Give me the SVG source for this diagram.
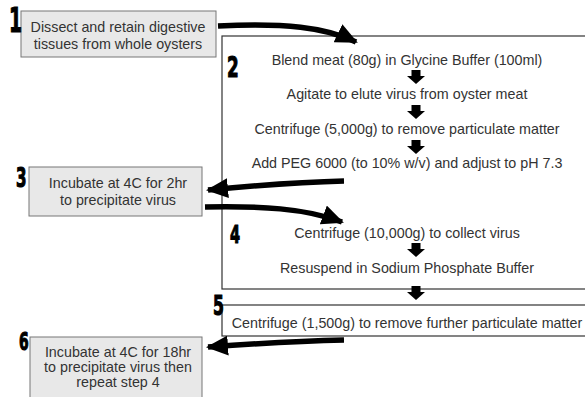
<svg xmlns="http://www.w3.org/2000/svg" xmlns:xlink="http://www.w3.org/1999/xlink" width="585" height="397" viewBox="0 0 585 397">
<style>
.t{font-family:"Liberation Sans",Arial,sans-serif;font-size:14.3px;fill:#333;text-anchor:middle}
.num{font-family:"DejaVu Sans",sans-serif;font-weight:bold;fill:#000;stroke:#000;stroke-width:1.2}
.gbox{fill:#e8e8e8;stroke:#777;stroke-width:1}
.wbox{fill:#fff;stroke:#333;stroke-width:1.2}
.conn{fill:none;stroke:#000;stroke-width:5.5;marker-end:url(#ah)}
</style>
<defs>
<marker id="ah" viewBox="0 0 22 20" refX="20" refY="10" markerWidth="22" markerHeight="20" markerUnits="userSpaceOnUse" orient="auto">
<path d="M0,0 L22,10 L0,20 Z" fill="#000"/>
</marker>
<g id="darr"><rect x="-4.5" y="0" width="9" height="7" fill="#000"/><polygon points="-9,6 9,6 0,14" fill="#000"/></g>
</defs>
<rect width="585" height="397" fill="#fff"/>

<g id="node2">
<rect class="wbox" x="222" y="36" width="370" height="253"/>
<text class="num" transform="translate(227,77) scale(0.58,1)" font-size="29">2</text>
<text class="t" x="407" y="65">Blend meat (80g) in Glycine Buffer (100ml)</text>
<use xlink:href="#darr" x="416" y="70"/>
<text class="t" x="407" y="99">Agitate to elute virus from oyster meat</text>
<use xlink:href="#darr" x="416" y="105"/>
<text class="t" x="407" y="134">Centrifuge (5,000g) to remove particulate matter</text>
<use xlink:href="#darr" x="416" y="140"/>
<text class="t" x="407" y="168">Add PEG 6000 (to 10% w/v) and adjust to pH 7.3</text>
</g>

<g id="node4">
<text class="num" transform="translate(230,243) scale(0.58,1)" font-size="25">4</text>
<text class="t" x="407" y="238">Centrifuge (10,000g) to collect virus</text>
<use xlink:href="#darr" x="416" y="243"/>
<text class="t" x="407" y="273">Resuspend in Sodium Phosphate Buffer</text>
</g>

<g id="node5">
<rect class="wbox" x="222" y="305" width="370" height="31"/>
<text class="num" transform="translate(213,315) scale(0.58,1)" font-size="27">5</text>
<text class="t" x="407" y="328">Centrifuge (1,500g) to remove further particulate matter</text>
</g>

<g id="node1">
<rect class="gbox" x="21" y="11" width="195" height="46"/>
<text class="num" transform="translate(9,32) scale(0.55,1)" font-size="34">1</text>
<text class="t" x="118" y="32">Dissect and retain digestive</text>
<text class="t" x="118" y="49">tissues from whole oysters</text>
</g>

<g id="node3">
<rect class="gbox" x="29" y="167" width="173" height="49"/>
<text class="num" transform="translate(16,187) scale(0.58,1)" font-size="26">3</text>
<text class="t" x="118" y="188">Incubate at 4C for 2hr</text>
<text class="t" x="118" y="205">to precipitate virus</text>
</g>

<g id="node6">
<rect class="gbox" x="30" y="337" width="172" height="70"/>
<text class="num" transform="translate(19,350) scale(0.58,1)" font-size="24">6</text>
<text class="t" x="118" y="357">Incubate at 4C for 18hr</text>
<text class="t" x="118" y="372">to precipitate virus then</text>
<text class="t" x="118" y="387">repeat step 4</text>
</g>

<g id="connectors">
<path class="conn" d="M218,26 C285,23 325,27 356,42"/>
<path class="conn" d="M344,181 C300,182 250,186 208,190"/>
<path class="conn" d="M205,207 C260,206 305,208 342,222"/>
<path class="conn" d="M344,340 C300,341 250,344 208,347"/>
<use xlink:href="#darr" x="416" y="286"/>
</g>
</svg>
